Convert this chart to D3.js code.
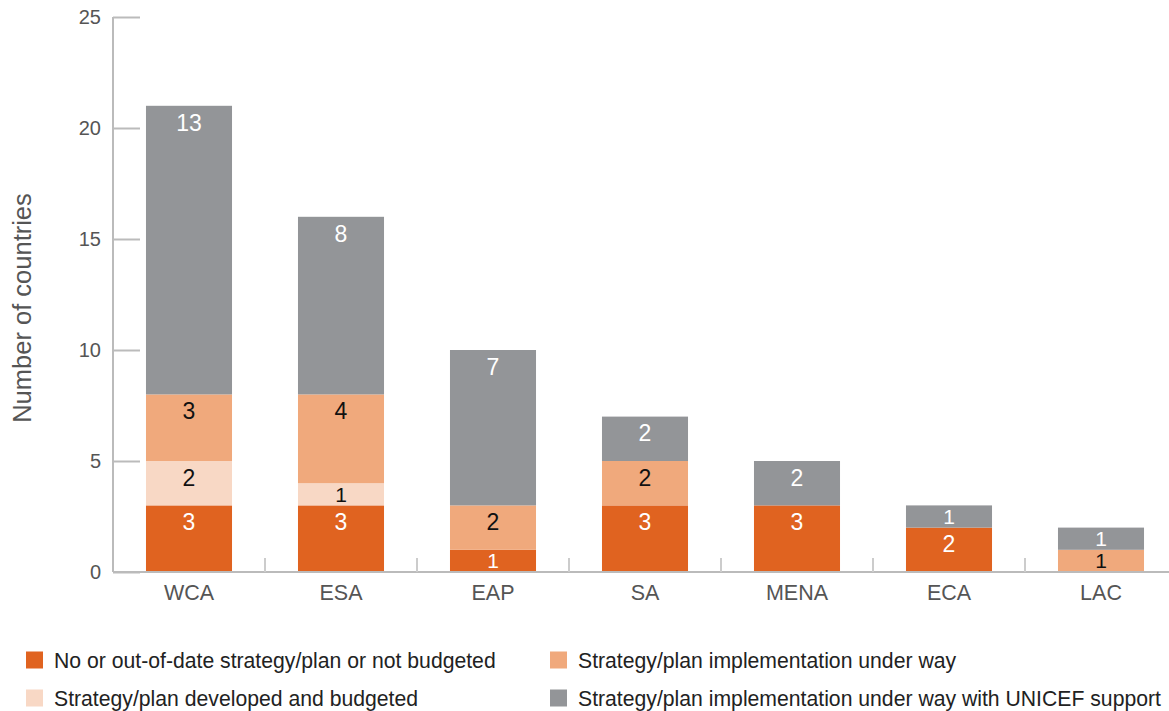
<!DOCTYPE html>
<html><head><meta charset="utf-8">
<script src="https://cdn.jsdelivr.net/npm/d3@7"></script>
<style>body{margin:0;background:#fff;}svg{display:block;font-family:"Liberation Sans",Arial,sans-serif;}</style>
</head><body>
<svg id="c" width="1169" height="711"></svg>
<script>
const categories = ["WCA","ESA","EAP","SA","MENA","ECA","LAC"];
const seriesNames = [
  "No or out-of-date strategy/plan or not budgeted",
  "Strategy/plan developed and budgeted",
  "Strategy/plan implementation under way",
  "Strategy/plan implementation under way with UNICEF support"
];
const notBudgeted = [3,3,1,3,3,2,0];
const developed   = [2,1,0,0,0,0,0];
const underWay    = [3,4,2,2,0,0,1];
const withUnicef  = [13,8,7,2,2,1,1];
const yTicks = [0,5,10,15,20,25];
const colors = ["#E06320","#F8D8C5","#F0A97C","#939598"];
const labelColors = ["#fff","#111","#111","#fff"];

const svg = d3.select("#c");
const x = d3.scaleBand().domain(categories).range([113,1177]).paddingInner(0.434).paddingOuter(0.217);
const y = d3.scaleLinear().domain([0,25]).range([572,17]);

const keys = ["a","b","c","d"];
const rows = categories.map((c,i)=>({cat:c,a:notBudgeted[i],b:developed[i],c:underWay[i],d:withUnicef[i]}));
const stack = d3.stack().keys(keys)(rows);

// y axis
const yAx = svg.append("g").attr("transform","translate(113,0)")
  .call(d3.axisRight(y).tickValues(yTicks).tickSize(27).tickFormat(""));
yAx.select(".domain").remove();
yAx.selectAll("line").attr("stroke","#bbb").attr("stroke-width",2);
svg.append("line").attr("x1",113).attr("x2",113).attr("y1",y(25)).attr("y2",y(0)).attr("stroke","#bbb").attr("stroke-width",2);
svg.append("g").selectAll("text").data(yTicks).join("text")
  .attr("x",101).attr("y",d=>y(d)).attr("dy","0.36em").attr("text-anchor","end")
  .attr("font-size",20).attr("fill","#555").text(d=>d);

// bars
stack.forEach((s,k)=>{
  const g = svg.append("g");
  g.selectAll("rect").data(s.filter(d=>d[1]-d[0]>0)).join("rect")
    .attr("x",d=>x(d.data.cat)).attr("width",x.bandwidth())
    .attr("y",d=>y(d[1])).attr("height",d=>y(d[0])-y(d[1]))
    .attr("fill",colors[k]);
  g.selectAll("text").data(s.filter(d=>d[1]-d[0]>0)).join("text")
    .attr("x",d=>x(d.data.cat)+x.bandwidth()/2)
    .attr("y",d=>{const h=y(d[0])-y(d[1]); return y(d[1])+Math.min(16.5,h/2);})
    .attr("dy","0.36em").attr("text-anchor","middle")
    .attr("font-size",d=>(y(d[0])-y(d[1]))<30?21:23)
    .attr("fill",labelColors[k]).text(d=>d[1]-d[0]);
});

// x axis
svg.append("line").attr("x1",113).attr("x2",1169).attr("y1",y(0)).attr("y2",y(0)).attr("stroke","#bbb").attr("stroke-width",2);
const step = x.step();
const seps = categories.slice(1).map(c=>x(c)-(step-x.bandwidth())/2);
svg.append("g").selectAll("line").data(seps).join("line")
  .attr("x1",d=>d).attr("x2",d=>d).attr("y1",y(0)).attr("y2",y(0)-14)
  .attr("stroke","#ccc").attr("stroke-width",2);
svg.append("g").selectAll("text").data(categories).join("text")
  .attr("x",d=>x(d)+x.bandwidth()/2).attr("y",592).attr("dy","0.36em")
  .attr("text-anchor","middle").attr("font-size",21.5).attr("fill","#555").text(d=>d);

// y title
svg.append("text").attr("transform","translate(31,308) rotate(-90)")
  .attr("text-anchor","middle").attr("font-size",25.5).attr("fill","#555").text("Number of countries");

// legend
const legendPos = [[26,660],[26,698],[550,660],[550,698]];
seriesNames.forEach((n,k)=>{
  const [lx,ly]=legendPos[k];
  svg.append("rect").attr("x",lx).attr("y",ly-8.5).attr("width",17).attr("height",17).attr("fill",colors[k]);
  svg.append("text").attr("x",lx+28).attr("y",ly).attr("dy","0.36em").attr("font-size",21.2).attr("fill","#222").text(n);
});
</script>
</body></html>
